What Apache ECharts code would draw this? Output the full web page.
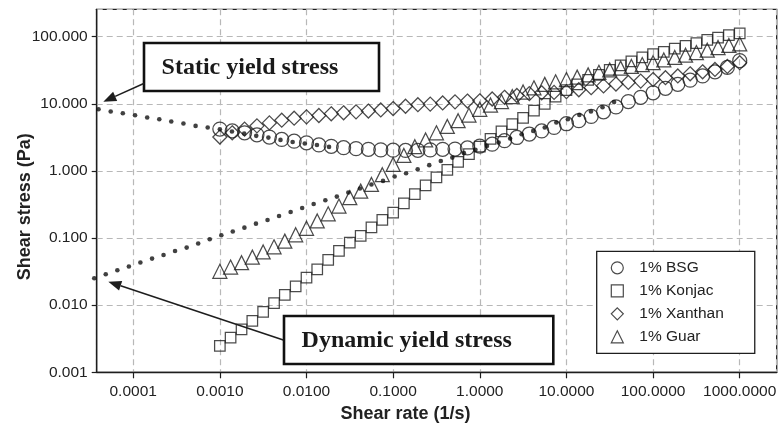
<!DOCTYPE html>
<html>
<head>
<meta charset="utf-8">
<script src="https://cdn.jsdelivr.net/npm/echarts@6/dist/echarts.min.js"></script>
<style>
html,body{margin:0;padding:0;background:#fff;}
#chart{width:780px;height:427px;}
</style>
</head>
<body>
<div id="chart"></div>
<script>
// ---- data (shear rate in 1/s, shear stress in Pa) ----
const seriesNames = ['1% BSG', '1% Konjac', '1% Xanthan', '1% Guar'];

const rate7 = [0.001, 0.00139, 0.00193, 0.00268, 0.00373, 0.00518, 0.0072,
  0.01, 0.0139, 0.0193, 0.0268, 0.0373, 0.0518, 0.072,
  0.1, 0.139, 0.193, 0.268, 0.373, 0.518, 0.72,
  1, 1.39, 1.93, 2.68, 3.73, 5.18, 7.2,
  10, 13.9, 19.3, 26.8, 37.3, 51.8, 72,
  100, 139, 193, 268, 373, 518, 720, 1000];

const rate8 = [0.001, 0.00133, 0.00178, 0.00237, 0.00316, 0.00422, 0.00562, 0.0075,
  0.01, 0.0133, 0.0178, 0.0237, 0.0316, 0.0422, 0.0562, 0.075,
  0.1, 0.133, 0.178, 0.237, 0.316, 0.422, 0.562, 0.75,
  1, 1.33, 1.78, 2.37, 3.16, 4.22, 5.62, 7.5,
  10, 13.3, 17.8, 23.7, 31.6, 42.2, 56.2, 75,
  100, 133, 178, 237, 316, 422, 562, 750, 1000];

const bsg = [4.2, 3.94, 3.7, 3.45, 3.2, 2.95, 2.78, 2.62, 2.44, 2.33,
  2.22, 2.15, 2.1, 2.06, 2.04, 2.02, 2.03, 2.06, 2.1, 2.12,
  2.2, 2.35, 2.5, 2.82, 3.15, 3.55, 3.95, 4.45, 5.05, 5.6,
  6.5, 7.6, 9.0, 10.8, 12.5, 14.6, 17.0, 19.5, 22.5, 26,
  30, 35, 44];

const xanthan = [3.2, 3.7, 4.2, 4.7, 5.2, 5.7, 6.1, 6.4, 6.7, 7.1,
  7.35, 7.6, 7.8, 8.1, 8.5, 9.2, 9.7, 9.9, 10.3, 10.7,
  11.0, 11.1, 11.8, 12.5, 13.3, 14.2, 14.6, 14.8, 15.2, 16.2,
  17.4, 18.5, 19.7, 20.8, 21.8, 23, 24.5, 26, 28, 30,
  32.5, 36, 41];

const konjac = [0.00247, 0.00329, 0.00437, 0.00582, 0.00794, 0.0107, 0.0142, 0.019,
  0.0258, 0.0343, 0.0472, 0.0643, 0.0857, 0.108, 0.144, 0.186,
  0.24, 0.33, 0.45, 0.61, 0.8, 1.04, 1.36, 1.78,
  2.3, 3.0, 3.9, 5.0, 6.2, 7.9, 10.0, 12.8,
  16.0, 19.5, 22.8, 27, 32, 37.5, 43, 49,
  54.8, 59.3, 66.7, 72.9, 80, 89.6, 97, 106, 112];

const guar = [0.032, 0.037, 0.043, 0.052, 0.062, 0.074, 0.09, 0.112,
  0.14, 0.18, 0.23, 0.3, 0.4, 0.5, 0.63, 0.88,
  1.25, 1.7, 2.3, 2.9, 3.7, 4.6, 5.6, 6.8,
  8.3, 9.6, 10.8, 12.8, 15, 17.3, 19.5, 21.3,
  23, 25, 27, 29.5, 32, 34, 36, 38.5,
  41, 45, 49, 53, 58, 63, 69, 74, 78];

// fitted model curves (dotted)
const staticRate = [3.98e-5, 5.5e-5, 7.59e-5, 1.05e-4, 1.45e-4, 2.0e-4, 2.75e-4, 3.8e-4, 5.25e-4, 7.24e-4,
  0.001, 0.00138, 0.00191, 0.00263, 0.00363, 0.00501, 0.00692, 0.00955, 0.0132, 0.0182];
const staticFit = [8.3, 7.7, 7.24, 6.76, 6.25, 5.89, 5.45, 5.09, 4.69, 4.43,
  4.18, 3.86, 3.6, 3.33, 3.14, 2.9, 2.7, 2.56, 2.44, 2.28];

const dynamicRate = [3.55e-5, 4.82e-5, 6.56e-5, 8.91e-5, 1.21e-4, 1.65e-4, 2.24e-4, 3.04e-4, 4.14e-4, 5.62e-4,
  7.64e-4, 0.00104, 0.00141, 0.00192, 0.00261, 0.00355, 0.00482, 0.00656, 0.00891, 0.0121,
  0.0165, 0.0224, 0.0304, 0.0414, 0.0562, 0.0764, 0.104, 0.141, 0.192, 0.261,
  0.355, 0.482, 0.656, 0.891, 1.21, 1.65, 2.24, 3.04, 4.14, 5.62,
  7.64, 10.4, 14.1, 19.2, 26.1, 35.5];
const dynamicFit = [0.0252, 0.0289, 0.0331, 0.0376, 0.0432, 0.0494, 0.056, 0.0643, 0.0721, 0.0828,
  0.096, 0.11, 0.125, 0.143, 0.164, 0.186, 0.213, 0.245, 0.281, 0.322,
  0.366, 0.415, 0.477, 0.547, 0.627, 0.71, 0.826, 0.924, 1.06, 1.22,
  1.41, 1.58, 1.84, 2.06, 2.36, 2.65, 3.04, 3.52, 3.95, 4.44,
  5.26, 5.9, 6.84, 7.68, 8.9, 10.6];

const xMin = 3.79e-5, xMax = 2672;
const yMin = 0.001, yMax = 256;

// ---- chart ----
const SANS = '"Liberation Sans", Arial, sans-serif';
const SERIF = '"Liberation Serif", "Times New Roman", serif';
const INK = '#1e1e1e';

function pairs(xs, ys) { return xs.map((x, i) => [x, ys[i]]); }

const markerStyle = { color: 'transparent', borderColor: INK, borderWidth: 1.25 };

function arrowGraphic(tail, tip) {
  const dx = tail[0] - tip[0], dy = tail[1] - tip[1];
  const len = Math.sqrt(dx * dx + dy * dy);
  const ux = dx / len, uy = dy / len;
  const hl = 13, hw = 5;
  const bx = tip[0] + ux * hl, by = tip[1] + uy * hl;
  const nx = -uy, ny = ux;
  return [
    { type: 'line', shape: { x1: tail[0], y1: tail[1], x2: bx, y2: by },
      style: { stroke: INK, lineWidth: 1.6 }, z: 100 },
    { type: 'polygon', shape: { points: [[tip[0], tip[1]], [bx + nx * hw, by + ny * hw], [bx - nx * hw, by - ny * hw]] },
      style: { fill: INK }, z: 100 }
  ];
}

const chart = echarts.init(document.getElementById('chart'), null, { renderer: 'canvas' });

const gridLine = { show: true, lineStyle: { color: '#b8b8b8', width: 1.2, type: [6, 4] } };

chart.setOption({
  animation: false,
  backgroundColor: '#fff',
  grid: { left: 96.7, right: 3.3, top: 9.3, bottom: 54.7, show: true, borderColor: INK, borderWidth: 1.3, containLabel: false },
  xAxis: {
    type: 'log', logBase: 10, min: xMin, max: xMax,
    axisLine: { show: true, lineStyle: { color: INK, width: 1.3 } },
    axisTick: { show: true, length: 6, lineStyle: { color: INK, width: 1.2 } },
    minorTick: { show: false },
    splitLine: gridLine,
    axisLabel: { showMinLabel: false, showMaxLabel: false, margin: 11, fontSize: 15.5, color: '#222', fontFamily: SANS,
      formatter: v => Number(v).toFixed(4) }
  },
  yAxis: {
    type: 'log', logBase: 10, min: yMin, max: yMax,
    axisLine: { show: true, lineStyle: { color: INK, width: 1.3 } },
    axisTick: { show: true, length: 5, lineStyle: { color: INK, width: 1.2 } },
    splitLine: gridLine,
    axisLabel: { showMaxLabel: false, margin: 9, fontSize: 15.5, color: '#222', fontFamily: SANS,
      formatter: v => Number(v).toFixed(3) }
  },
  legend: {
    data: seriesNames,
    orient: 'vertical',
    left: 596.7, top: 251.3,
    itemWidth: 12, itemHeight: 12, itemGap: 7,
    padding: [8.5, 31, 8.5, 14],
    borderColor: INK, borderWidth: 1.3, backgroundColor: '#fff',
    textStyle: { fontSize: 15.5, color: '#222', fontFamily: SANS, padding: [0, 0, 0, 11] },
    itemStyle: { color: 'transparent', borderColor: INK, borderWidth: 1.2 },
    selectedMode: false
  },
  series: [
    { name: '1% BSG', type: 'scatter', symbol: 'circle', symbolSize: 14, itemStyle: markerStyle, data: pairs(rate7, bsg), z: 2 },
    { name: '1% Konjac', type: 'scatter', symbol: 'rect', symbolSize: 10.5, itemStyle: markerStyle, data: pairs(rate8, konjac), z: 2 },
    { name: '1% Xanthan', type: 'scatter', symbol: 'diamond', symbolSize: [14, 14], itemStyle: markerStyle, data: pairs(rate7, xanthan), z: 2 },
    { name: '1% Guar', type: 'scatter', symbol: 'triangle', symbolSize: [14, 14], itemStyle: markerStyle, data: pairs(rate8, guar), z: 2 },
    { name: 'static fit', type: 'scatter', symbol: 'circle', symbolSize: 4.6, itemStyle: { color: '#111' }, clip: false, silent: true, data: pairs(staticRate, staticFit), z: 3 },
    { name: 'dynamic fit', type: 'scatter', symbol: 'circle', symbolSize: 4.6, itemStyle: { color: '#111' }, clip: false, silent: true, data: pairs(dynamicRate, dynamicFit), z: 3 }
  ],
  graphic: [
    { type: 'text', style: { text: 'Shear stress (Pa)', font: 'bold 18px ' + SANS, fill: '#222', textAlign: 'center', textVerticalAlign: 'middle' },
      x: 25, y: 206.7, rotation: Math.PI / 2, z: 100 },
    { type: 'text', style: { text: 'Shear rate (1/s)', font: 'bold 18px ' + SANS, fill: '#222', textAlign: 'center', textVerticalAlign: 'middle' },
      x: 405.5, y: 414, z: 100 },
    { type: 'rect', shape: { x: 144, y: 43, width: 235, height: 48 }, style: { fill: '#fff', stroke: '#111', lineWidth: 2.6 }, z: 100 },
    { type: 'text', style: { text: 'Static yield stress', font: 'bold 24px ' + SERIF, fill: '#1a1a1a', textAlign: 'center', textVerticalAlign: 'middle' },
      x: 250, y: 68, z: 101 },
    { type: 'rect', shape: { x: 284, y: 316, width: 269.3, height: 48 }, style: { fill: '#fff', stroke: '#111', lineWidth: 2.6 }, z: 100 },
    { type: 'text', style: { text: 'Dynamic yield stress', font: 'bold 24px ' + SERIF, fill: '#1a1a1a', textAlign: 'center', textVerticalAlign: 'middle' },
      x: 406.7, y: 341, z: 101 },
    ...arrowGraphic([144.3, 83.3], [103.3, 101.7]),
    ...arrowGraphic([283.3, 340], [108.3, 281.7])
  ]
});
</script>
</body>
</html>
